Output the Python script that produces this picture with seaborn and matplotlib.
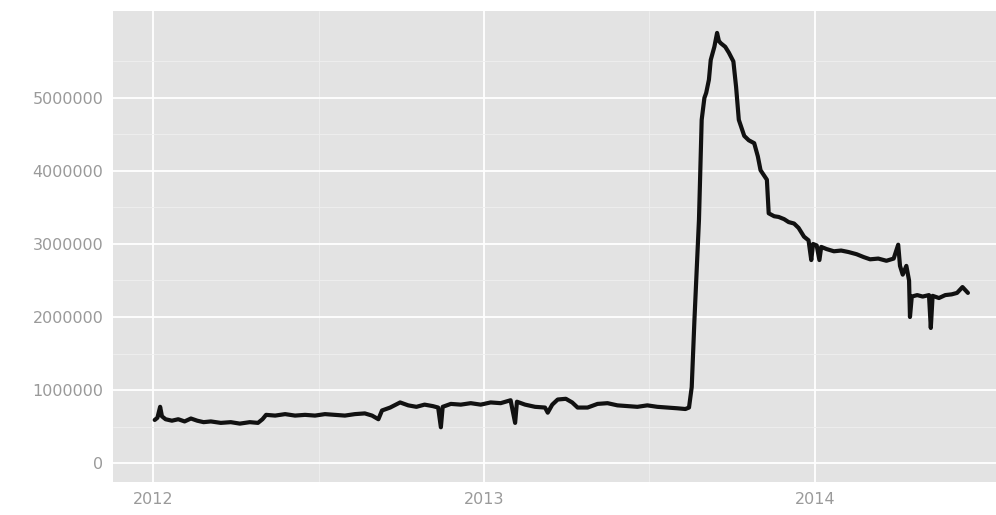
import matplotlib
matplotlib.use("Agg")
import matplotlib.pyplot as plt
import seaborn as sns
import pandas as pd

dates = [
    "2012-01-03", "2012-01-06", "2012-01-09", "2012-01-11", "2012-01-15", "2012-01-22",
    "2012-01-29", "2012-02-05", "2012-02-12", "2012-02-19", "2012-02-26", "2012-03-05",
    "2012-03-16", "2012-03-27", "2012-04-06", "2012-04-17", "2012-04-26", "2012-05-01",
    "2012-05-05", "2012-05-15", "2012-05-26", "2012-06-06", "2012-06-17", "2012-06-28",
    "2012-07-09", "2012-07-20", "2012-07-31", "2012-08-11", "2012-08-22", "2012-08-30",
    "2012-09-06", "2012-09-10", "2012-09-19", "2012-09-30", "2012-10-09", "2012-10-18",
    "2012-10-27", "2012-11-05", "2012-11-11", "2012-11-14", "2012-11-16", "2012-11-25",
    "2012-12-06", "2012-12-17", "2012-12-28",
    "2013-01-08", "2013-01-19", "2013-01-30", "2013-02-04", "2013-02-06", "2013-02-15",
    "2013-02-26", "2013-03-09", "2013-03-12", "2013-03-17", "2013-03-23", "2013-04-01",
    "2013-04-08", "2013-04-14", "2013-04-25", "2013-05-06", "2013-05-17", "2013-05-28",
    "2013-06-08", "2013-06-19", "2013-06-30", "2013-07-11", "2013-07-22", "2013-08-02",
    "2013-08-11", "2013-08-15", "2013-08-18", "2013-08-21", "2013-08-26", "2013-08-29",
    "2013-09-01", "2013-09-03", "2013-09-06", "2013-09-08", "2013-09-12", "2013-09-15",
    "2013-09-17", "2013-09-19", "2013-09-24", "2013-09-28", "2013-10-03", "2013-10-06",
    "2013-10-09", "2013-10-15", "2013-10-20", "2013-10-26", "2013-10-30", "2013-11-02",
    "2013-11-09", "2013-11-11", "2013-11-17", "2013-11-22", "2013-11-28", "2013-12-03",
    "2013-12-09", "2013-12-14", "2013-12-20", "2013-12-25", "2013-12-28", "2013-12-30",
    "2014-01-03", "2014-01-06", "2014-01-08", "2014-01-14", "2014-01-22", "2014-01-30",
    "2014-02-07", "2014-02-16", "2014-02-24", "2014-03-03", "2014-03-12", "2014-03-21",
    "2014-03-29", "2014-04-03", "2014-04-05", "2014-04-08", "2014-04-12", "2014-04-15",
    "2014-04-16", "2014-04-18", "2014-04-24", "2014-04-30", "2014-05-07", "2014-05-09",
    "2014-05-11", "2014-05-18", "2014-05-25", "2014-06-01", "2014-06-07", "2014-06-13",
    "2014-06-16", "2014-06-19",
]
values = [
    590000, 620000, 770000, 640000, 600000, 580000,
    600000, 570000, 610000, 580000, 560000, 570000,
    550000, 560000, 540000, 560000, 550000, 600000,
    660000, 650000, 670000, 650000, 660000, 650000,
    670000, 660000, 650000, 670000, 680000, 650000,
    600000, 720000, 760000, 830000, 790000, 770000,
    800000, 780000, 760000, 490000, 770000, 810000,
    800000, 820000, 800000,
    830000, 820000, 860000, 550000, 840000, 800000,
    770000, 760000, 690000, 800000, 870000, 880000,
    830000, 760000, 760000, 810000, 820000, 790000,
    780000, 770000, 790000, 770000, 760000, 750000,
    740000, 760000, 1040000, 1960000, 3330000, 4700000,
    5000000, 5070000, 5250000, 5520000, 5700000, 5890000,
    5780000, 5750000, 5700000, 5620000, 5500000, 5150000,
    4700000, 4480000, 4420000, 4380000, 4200000, 4010000,
    3880000, 3420000, 3380000, 3370000, 3340000, 3300000,
    3280000, 3220000, 3100000, 3050000, 2780000, 3000000,
    2980000, 2780000, 2960000, 2930000, 2900000, 2910000,
    2890000, 2860000, 2820000, 2790000, 2800000, 2770000,
    2800000, 2990000, 2700000, 2580000, 2700000, 2500000,
    2000000, 2280000, 2300000, 2280000, 2300000, 1850000,
    2290000, 2260000, 2300000, 2310000, 2330000, 2410000,
    2370000, 2330000,
]
year_ticks = ["2012-01-01", "2013-01-01", "2014-01-01"]
year_labels = ["2012", "2013", "2014"]
y_ticks = [0, 1000000, 2000000, 3000000, 4000000, 5000000]

df = pd.DataFrame({"date": pd.to_datetime(dates), "value": values})

sns.set_theme(style="darkgrid")
plt.rcParams["font.family"] = ["DejaVu Sans"]

fig = plt.figure(figsize=(9.96, 5.15), dpi=100)
ax = fig.add_axes([0.1135, 0.064, 0.8865, 0.9146])
ax.set_facecolor("#E3E3E3")

sns.lineplot(data=df, x="date", y="value", ax=ax, color="#111111", linewidth=3.0)

ax.set_xlim(pd.Timestamp("2011-11-18"), pd.Timestamp("2014-07-20"))
ax.set_ylim(-260000, 6190000)
ax.set_xticks(pd.to_datetime(year_ticks))
ax.set_xticklabels(year_labels)
ax.set_yticks(y_ticks)
ax.set_yticklabels([str(v) for v in y_ticks])
ax.set_xticks(pd.to_datetime(["2012-07-02", "2013-07-02"]), minor=True)
ax.set_yticks([500000, 1500000, 2500000, 3500000, 4500000, 5500000], minor=True)

ax.grid(which="major", color="white", linewidth=1.3)
ax.grid(which="minor", color="#EFEFEF", linewidth=0.6)
for s in ax.spines.values():
    s.set_visible(False)
ax.tick_params(axis="both", which="major", colors="#A0A0A0", labelcolor="#9A9A9A",
               labelsize=11.5, length=4, width=1, direction="out", pad=3)
ax.tick_params(axis="both", which="minor", length=0)
ax.set_xlabel("")
ax.set_ylabel("")

fig.savefig("out.png", dpi=100, facecolor="white")
